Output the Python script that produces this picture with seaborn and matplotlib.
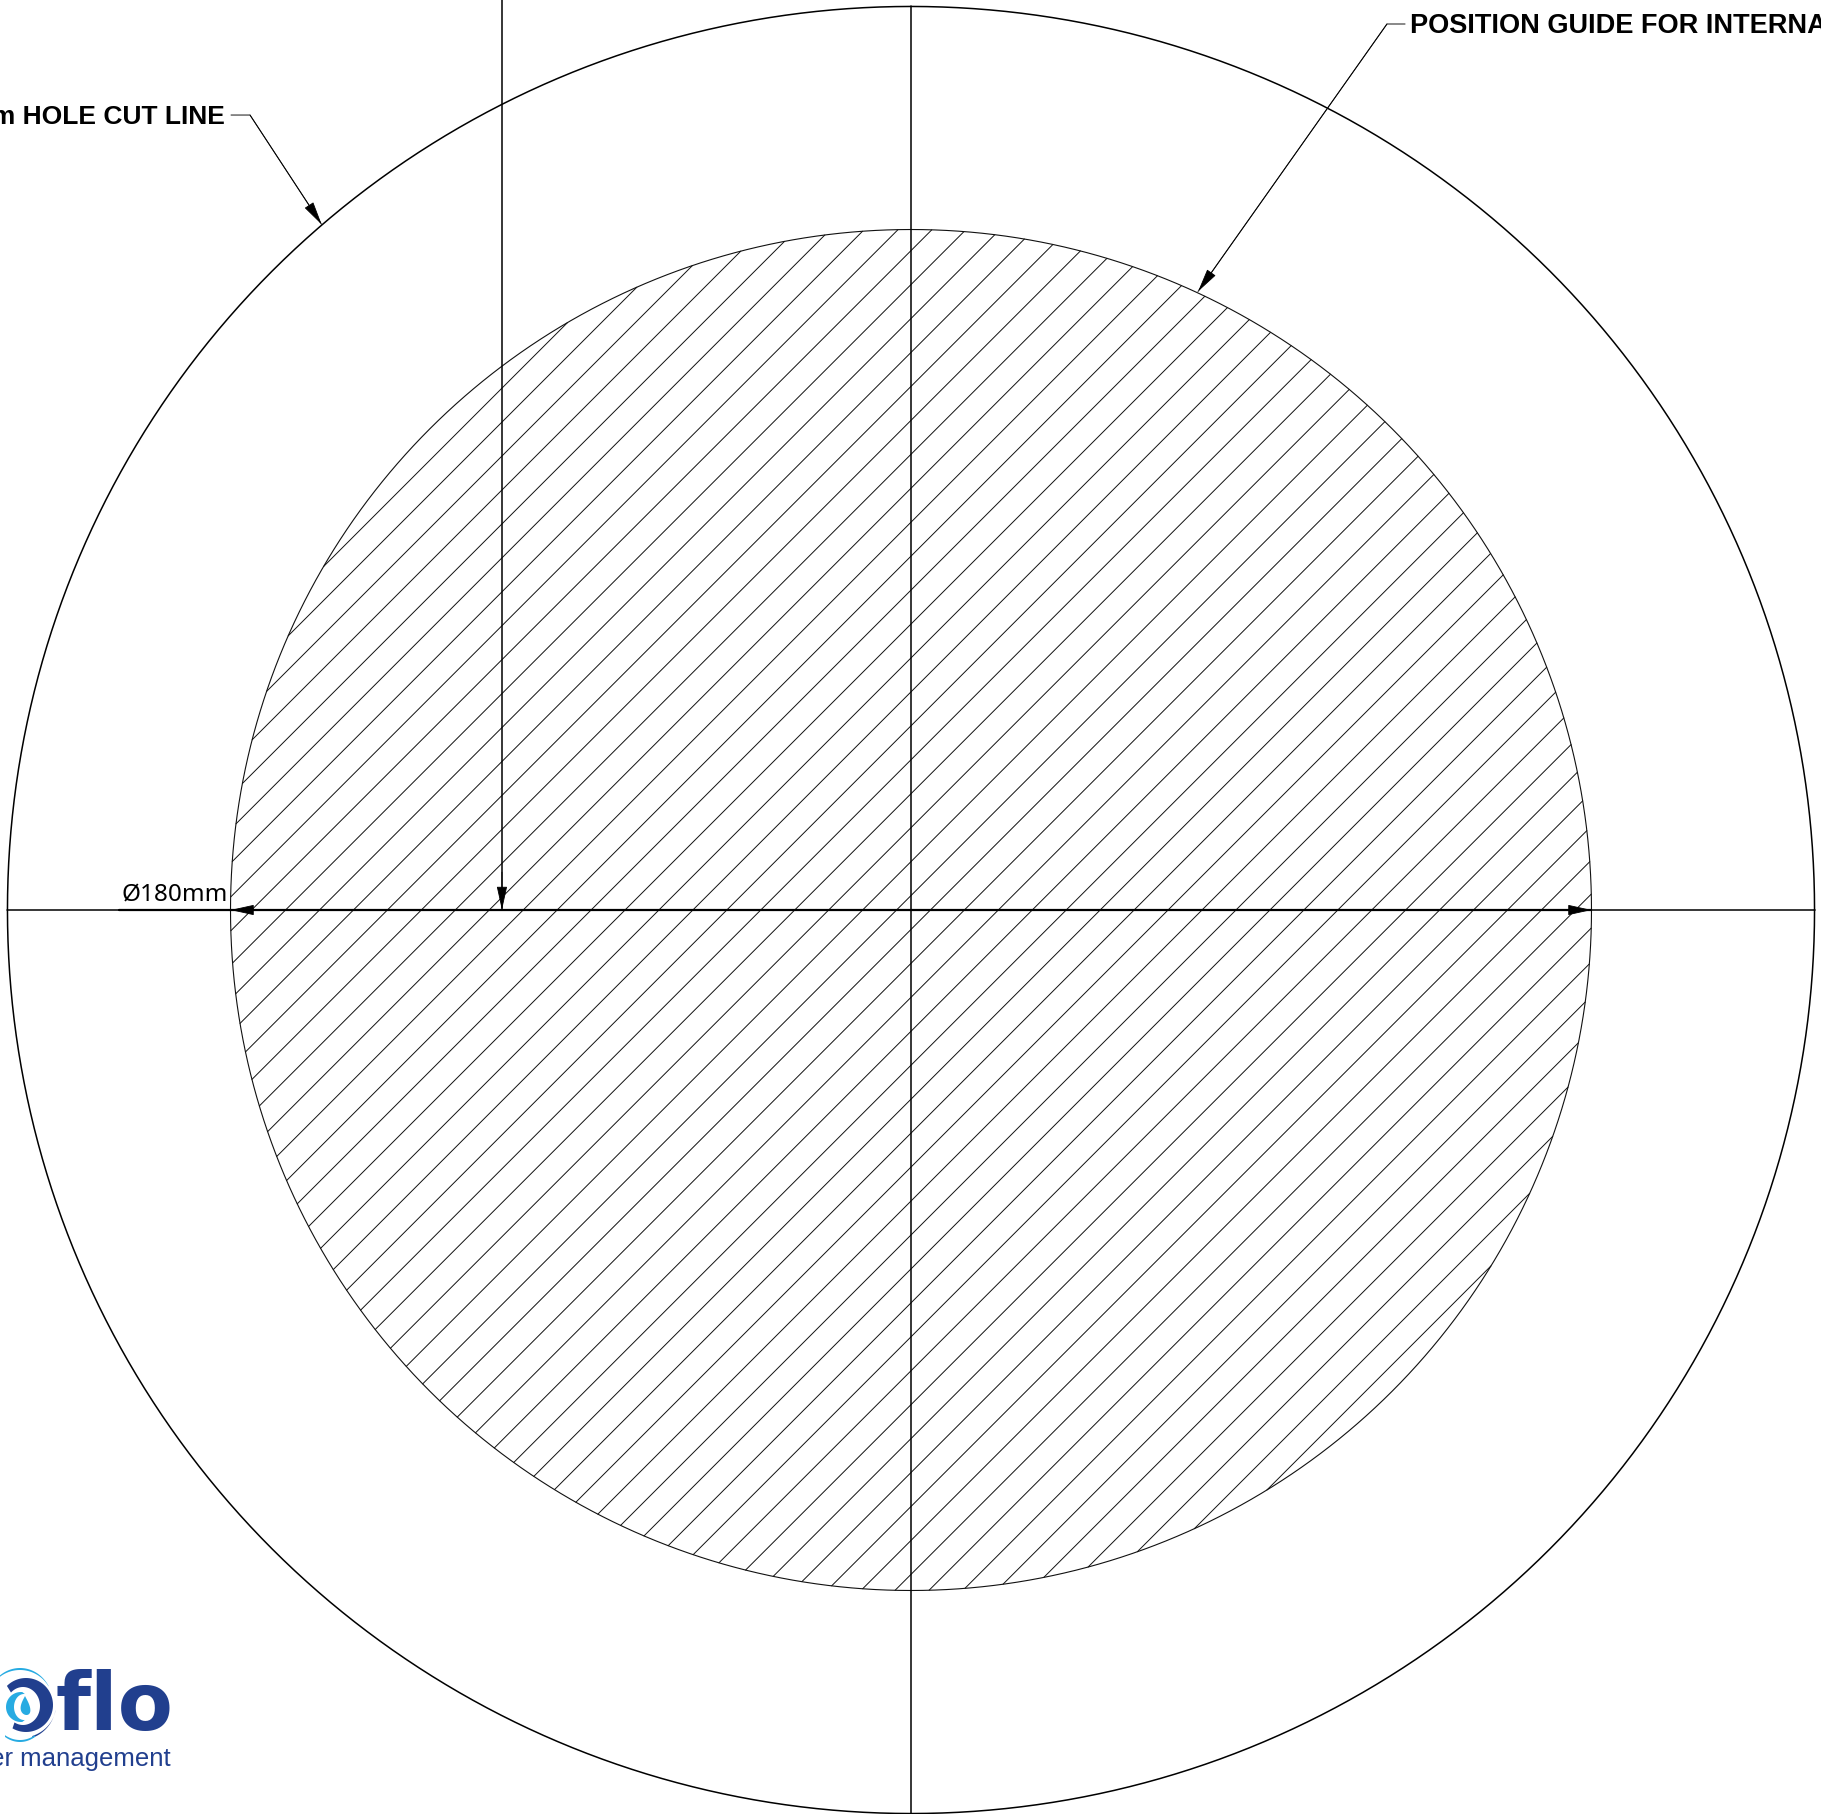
"""Hole cutting template: 240mm hole cut line with a hatched 180mm position guide."""

import matplotlib
matplotlib.use("Agg")
import matplotlib.pyplot as plt
import numpy as np
import pandas as pd
import seaborn as sns

# all drawing values in mm, measured from the centre of the template
outer_radius = 119.5
inner_radius = 90.0
hatch_offsets = [
    -123.12, -118.63, -114.14, -109.65, -105.16, -100.67, -96.18, -91.70,
    -87.21, -82.72, -78.23, -73.74, -69.25, -64.76, -60.27, -55.78,
    -51.29, -46.80, -42.31, -37.82, -33.34, -28.85, -24.36, -19.87,
    -15.38, -10.89, -6.40, -1.91, 2.57, 7.06, 11.55, 16.04,
    20.53, 25.02, 29.51, 34.00, 38.49, 42.98, 47.47, 51.96,
    56.45, 60.94, 65.42, 69.91, 74.40, 78.89, 83.38, 87.87,
    92.36, 96.85, 101.34, 105.83, 110.32, 114.81, 119.30, 123.78,
]
dim_line_x = [-104.75, 90.0]
dim_label = "Ø180mm"
guide_x = -54.1
cut_leader_x = [-89.93, -87.42, -77.94]
cut_leader_y = [105.14, 105.14, 90.66]
cut_label = "Ø240mm HOLE CUT LINE"
guide_leader_x = [65.34, 62.95, 37.96]
guide_leader_y = [117.18, 117.18, 81.80]
guide_label = "POSITION GUIDE FOR INTERNAL"
logo_word = "ecoflo"
logo_tagline = "water management"

NAVY = "#213f8e"
CYAN = "#27abe2"
PX_PER_MM = 7.561
WIDTH, HEIGHT = 1821, 1814
CX, CY = 911, 910


def px(x, y):
    """Convert reference pixels to drawing mm."""
    return (np.asarray(x, dtype=float) - CX) / PX_PER_MM, (CY - np.asarray(y, dtype=float)) / PX_PER_MM


def circle_frame(radius):
    theta = np.linspace(0, 2 * np.pi, 721)
    return pd.DataFrame({"x": radius * np.cos(theta), "y": radius * np.sin(theta)})


def hatch_frame(offsets, radius):
    rows = []
    for i, d in enumerate(offsets):
        half = np.sqrt(radius**2 - d**2 / 2) / np.sqrt(2)
        rows.append({"line": i, "x": d / 2 - half, "y": -d / 2 - half})
        rows.append({"line": i, "x": d / 2 + half, "y": -d / 2 + half})
    return pd.DataFrame(rows)


def draw(ax, frame, lw, color="black", units=None):
    sns.lineplot(data=frame, x="x", y="y", units=units, estimator=None, sort=False,
                 color=color, linewidth=lw, legend=False, ax=ax)


def arrow(ax, tail, tip, lw=0.6):
    ax.annotate("", xy=tip, xytext=tail,
                arrowprops=dict(arrowstyle="-|>,head_length=15,head_width=3.3", mutation_scale=1,
                                color="black", lw=lw, shrinkA=0, shrinkB=0))


def crescent(ax, color, cx, cy, outer, inner, start, stop):
    """Fill between two elliptical arcs, given in reference pixels."""
    t = np.radians(np.linspace(start, stop, 60))
    x1 = cx + outer[0] * np.cos(t)
    y1 = cy - outer[1] * np.sin(t)
    x2 = cx + inner[2] + inner[0] * np.cos(t[::-1])
    y2 = cy + inner[3] - inner[1] * np.sin(t[::-1])
    xs, ys = px(np.r_[x1, x2], np.r_[y1, y2])
    ax.fill(xs, ys, color=color, lw=0)


sns.set_theme(style="white")
plt.rcParams["font.family"] = ["Noto Sans", "DejaVu Sans"]

fig = plt.figure(figsize=(WIDTH / 100, HEIGHT / 100), dpi=100, facecolor="white")
ax = fig.add_axes([0, 0, 1, 1])

draw(ax, circle_frame(outer_radius), 1.1)
draw(ax, hatch_frame(hatch_offsets, inner_radius), 0.7, color="#111111", units="line")
draw(ax, circle_frame(inner_radius), 0.8, color="#111111")

# centre lines, the dimension line and the offset guide line
draw(ax, pd.DataFrame({"x": [0, 0], "y": [-outer_radius, outer_radius]}), 1.1)
draw(ax, pd.DataFrame({"x": [-outer_radius, outer_radius], "y": [0, 0]}), 1.1)
draw(ax, pd.DataFrame({"x": dim_line_x, "y": [0, 0]}), 1.6)
draw(ax, pd.DataFrame({"x": [guide_x, guide_x], "y": [0, 125]}), 1.1)

draw(ax, pd.DataFrame({"x": cut_leader_x, "y": cut_leader_y}), 0.75, color="#222222")
draw(ax, pd.DataFrame({"x": guide_leader_x, "y": guide_leader_y}), 0.75, color="#222222")

arrow(ax, (-inner_radius + 5, 0), (-inner_radius, 0))
arrow(ax, (inner_radius - 5, 0), (inner_radius, 0))
arrow(ax, (guide_x, 5), (guide_x, 0))
arrow(ax, (cut_leader_x[1], cut_leader_y[1]), (cut_leader_x[2], cut_leader_y[2]))
arrow(ax, (guide_leader_x[1], guide_leader_y[1]), (guide_leader_x[2], guide_leader_y[2]))

ax.text(-90.3, 1.19, dim_label, ha="right", va="baseline", fontsize=17.5, color="black")
ax.text(-90.7, 103.96, cut_label, ha="right", va="baseline", fontsize=19, fontweight="bold",
        family="Liberation Sans", color="black")
ax.text(66.0, 115.99, guide_label, ha="left", va="baseline", fontsize=19.5, fontweight="bold",
        family="Liberation Sans", color="black")

# logo, with the swirl standing in for the second "o" of the word
wx, wy = px(173, 1730)
ax.text(wx, wy, logo_word[3:], ha="right", va="baseline", fontsize=58, fontweight="bold",
        family="DejaVu Sans", color=NAVY)
tx, ty = px(171, 1766)
ax.text(tx, ty, logo_tagline, ha="right", va="baseline", fontsize=18.5, family="Liberation Sans", color=NAVY)
crescent(ax, NAVY, 26, 1705, (27, 27), (17, 19, -3, 1), -120, 135)
crescent(ax, CYAN, 20, 1704, (33, 36), (33, 33, 0, -1), 30, 130)
crescent(ax, NAVY, 20, 1704, (36, 36), (36, 33, 0, 1), -70, -10)
crescent(ax, CYAN, 20, 1704, (30, 38), (30, 36, 0, 0), -120, -60)
crescent(ax, CYAN, 21, 1707, (15, 15), (10, 13, 3, 0), 85, 275)
drop_t = np.linspace(0, 2 * np.pi, 80)
drop_x, drop_y = px(25 + 6.5 * np.sin(drop_t) * np.sin(drop_t / 2) ** 1.2 + 1.5 * np.sin(drop_t / 2) ** 6,
                    1696 + 19 * np.sin(drop_t / 2) ** 2)
ax.fill(drop_x, drop_y, color=CYAN, lw=0)

ax.set_xlim(-CX / PX_PER_MM, (WIDTH - CX) / PX_PER_MM)
ax.set_ylim((CY - HEIGHT) / PX_PER_MM, CY / PX_PER_MM)
ax.set_axis_off()

fig.savefig("out.png", dpi=100, facecolor="white")
